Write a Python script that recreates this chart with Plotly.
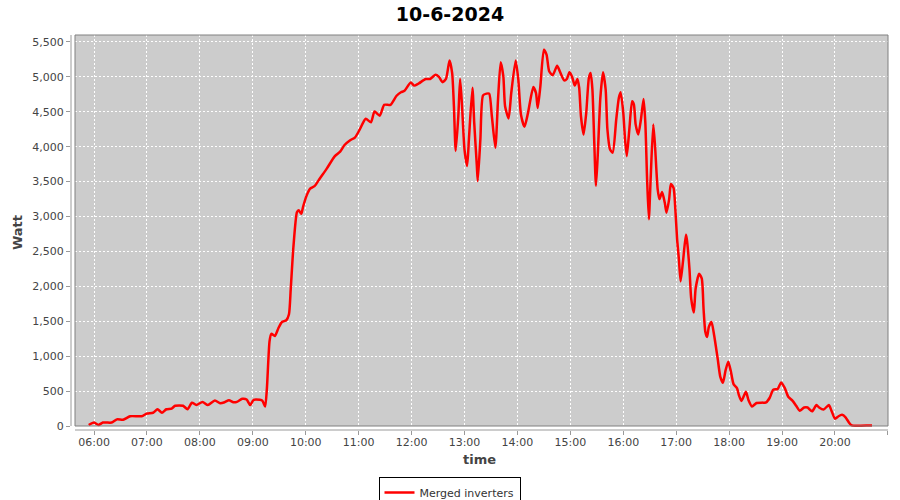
import plotly.graph_objects as go

DATE = "2024-06-10"
TITLE = "10-6-2024"
SERIES_NAME = "Merged inverters"

times = [
    "05:54", "06:00", "06:05", "06:10", "06:14", "06:20", "06:26", "06:33", "06:41", "06:54",
    "07:00", "07:07", "07:12", "07:17", "07:22", "07:28", "07:32", "07:41", "07:46", "07:51",
    "07:56", "08:03", "08:09", "08:17", "08:23", "08:28", "08:33", "08:38", "08:42", "08:48",
    "08:53", "08:57", "09:01", "09:08", "09:11", "09:14", "09:16", "09:19", "09:21", "09:25",
    "09:29", "09:33", "09:38", "09:41", "09:43", "09:46", "09:50", "09:52", "09:55", "09:57",
    "10:01", "10:05", "10:10", "10:16", "10:24", "10:33", "10:39", "10:44", "10:50", "10:56",
    "11:01", "11:08", "11:14", "11:18", "11:24", "11:29", "11:36", "11:43", "11:48", "11:52",
    "11:59", "12:03", "12:08", "12:16", "12:21", "12:27", "12:31", "12:35", "12:39", "12:43",
    "12:46", "12:48", "12:50", "12:53", "12:55", "12:57", "13:00", "13:03", "13:05", "13:09",
    "13:11", "13:14", "13:15", "13:18", "13:21", "13:25", "13:28", "13:31", "13:35", "13:38",
    "13:41", "13:44", "13:46", "13:50", "13:53", "13:58", "14:01", "14:04", "14:08", "14:12",
    "14:18", "14:21", "14:23", "14:26", "14:30", "14:33", "14:36", "14:40", "14:45", "14:48",
    "14:53", "14:56", "14:59", "15:02", "15:05", "15:08", "15:10", "15:12", "15:15", "15:18",
    "15:21", "15:23", "15:25", "15:27", "15:29", "15:31", "15:34", "15:37", "15:40", "15:42",
    "15:45", "15:48", "15:52", "15:55", "15:57", "16:00", "16:02", "16:04", "16:07", "16:10",
    "16:12", "16:14", "16:17", "16:20", "16:23", "16:25", "16:27", "16:29", "16:31", "16:34",
    "16:36", "16:39", "16:41", "16:44", "16:47", "16:49", "16:52", "16:54", "16:57", "16:59",
    "17:01", "17:03", "17:05", "17:08", "17:11", "17:12", "17:15", "17:17", "17:20", "17:22",
    "17:26", "17:29", "17:31", "17:33", "17:35", "17:37", "17:40", "17:43", "17:47", "17:50",
    "17:53", "17:56", "17:59", "18:02", "18:05", "18:09", "18:11", "18:14", "18:19", "18:22",
    "18:26", "18:31", "18:42", "18:46", "18:50", "18:55", "18:59", "19:03", "19:07", "19:12",
    "19:16", "19:20", "19:25", "19:29", "19:34", "19:39", "19:42", "19:47", "19:53", "19:56",
    "20:00", "20:04", "20:08", "20:12", "20:16", "20:19", "20:39", "20:42",
]

watts = [
    15, 50, 15, 50, 50, 50, 95, 90, 140, 140,
    180, 190, 240, 190, 240, 250, 290, 290, 240, 335,
    300, 345, 300, 365, 325, 340, 370, 340, 345, 390,
    380, 300, 375, 375, 360, 280, 540, 1215, 1320, 1290,
    1400, 1490, 1515, 1600, 1960, 2560, 3060, 3090, 3040, 3140,
    3300, 3400, 3435, 3545, 3690, 3865, 3930, 4025, 4090, 4135,
    4240, 4400, 4350, 4505, 4445, 4600, 4600, 4730, 4780, 4800,
    4920, 4875, 4905, 4970, 4970, 5030, 5000, 4925, 4970, 5235,
    5055, 4580, 3940, 4440, 4970, 4630, 3960, 3725, 4105, 4845,
    4345, 3725, 3510, 4105, 4735, 4760, 4760, 4440, 3985, 4675,
    5210, 5010, 4580, 4405, 4770, 5235, 4960, 4460, 4285, 4485,
    4855, 4770, 4555, 4865, 5390, 5320, 5080, 5025, 5160, 5080,
    4950, 4970, 5065, 5000, 4875, 4970, 4845, 4440, 4175, 4485,
    4985, 5055, 4820, 4105, 3440, 3865, 4700, 5065, 4820, 4250,
    3960, 3915, 4390, 4700, 4780, 4485, 4105, 3865, 4270, 4650,
    4605, 4320, 4175, 4390, 4685, 4345, 3535, 2960, 3535, 4320,
    4010, 3390, 3250, 3350, 3200, 3055, 3250, 3465, 3410, 3105,
    2680, 2395, 2070, 2395, 2740, 2680, 2255, 1825, 1625, 1965,
    2180, 2110, 1680, 1350, 1275, 1420, 1490, 1300, 965, 705,
    620, 800, 920, 780, 600, 540, 445, 360, 490, 370,
    280, 330, 340, 405, 520, 530, 625, 547, 420, 360,
    290, 220, 265, 265, 210, 300, 265, 235, 300, 220,
    105, 140, 160, 125, 47, 8, 8, 8,
]

x_vals = [f"{DATE} {t}:00" for t in times]

W, H = 900, 500
L, R, T, B = 71, 12, 35, 70
pw = W - L - R
ph = H - T - B
gap = 4
FONT = "DejaVu Sans"

fig = go.Figure()
fig.add_trace(go.Scatter(
    x=x_vals, y=watts, mode="lines", name=SERIES_NAME,
    line=dict(color="#ff0000", width=2.5, shape="spline", smoothing=0.6),
))

# gray plot background (inset from the axis lines like the original)
fig.add_shape(type="rect", xref="paper", yref="paper",
              x0=gap / pw, x1=1, y0=gap / ph, y1=1,
              fillcolor="#cccccc", line=dict(width=0), layer="below")
fig.add_shape(type="rect", xref="paper", yref="paper",
              x0=gap / pw, x1=1, y0=gap / ph, y1=1,
              fillcolor="rgba(0,0,0,0)", line=dict(color="#808080", width=1), layer="above")
# offset axis lines
fig.add_shape(type="line", xref="paper", yref="paper",
              x0=gap / pw, x1=1, y0=0, y1=0, line=dict(color="#9a9a9a", width=1))
fig.add_shape(type="line", xref="paper", yref="paper",
              x0=0, x1=0, y0=gap / ph, y1=1, line=dict(color="#9a9a9a", width=1))

fig.update_layout(
    template="none",
    width=W, height=H,
    autosize=False,
    margin=dict(l=L, r=R, t=T, b=B, pad=0, autoexpand=False),
    paper_bgcolor="white", plot_bgcolor="white",
    font=dict(family=FONT, size=11, color="#444444"),
    title=dict(text=f"<b>{TITLE}</b>", x=450 / W, xanchor="center", xref="container",
               y=1 - 14.5 / H, yanchor="middle", yref="container",
               font=dict(family=FONT, size=19, color="#000000")),
    showlegend=True,
    legend=dict(orientation="h", x=449.5 / W, xanchor="center", xref="container",
                y=1 - 477 / H, yanchor="top", yref="container",
                bordercolor="#000000", borderwidth=1, bgcolor="white",
                itemwidth=30, tracegroupgap=0,
                font=dict(family=FONT, size=11, color="#333333")),
    xaxis=dict(
        type="date", automargin=False,
        range=[f"{DATE} 05:33:54", f"{DATE} 21:00:06"],
        tickformat="%H:%M", dtick=3600000, tick0=f"{DATE} 06:00:00",
        showgrid=True, gridcolor="white", griddash="2px,2px", gridwidth=1,
        zeroline=False, showline=False,
        ticks="outside", ticklen=4, tickcolor="#9a9a9a",
        ticklabelstandoff=-2,
        tickfont=dict(family=FONT, size=11, color="#444444"),
        title=dict(text="<b>time</b>", standoff=6,
                   font=dict(family=FONT, size=13, color="#444444")),
    ),
    yaxis=dict(
        automargin=False,
        range=[-57, 5600],
        tickvals=[0, 500, 1000, 1500, 2000, 2500, 3000, 3500, 4000, 4500, 5000, 5500],
        tickformat=",d",
        showgrid=True, gridcolor="white", griddash="2px,2px", gridwidth=1,
        zeroline=False, showline=False,
        ticks="outside", ticklen=4, tickcolor="#9a9a9a",
        tickfont=dict(family=FONT, size=11, color="#444444"),
        title=dict(text="<b>Watt</b>", standoff=6,
                   font=dict(family=FONT, size=13, color="#444444")),
    ),
)

# remove the default 8px page margin so the 900x500 figure fills the window exactly
fig.write_html("out.html", config={"displayModeBar": False},
               post_script="document.body.style.margin='0px';")
